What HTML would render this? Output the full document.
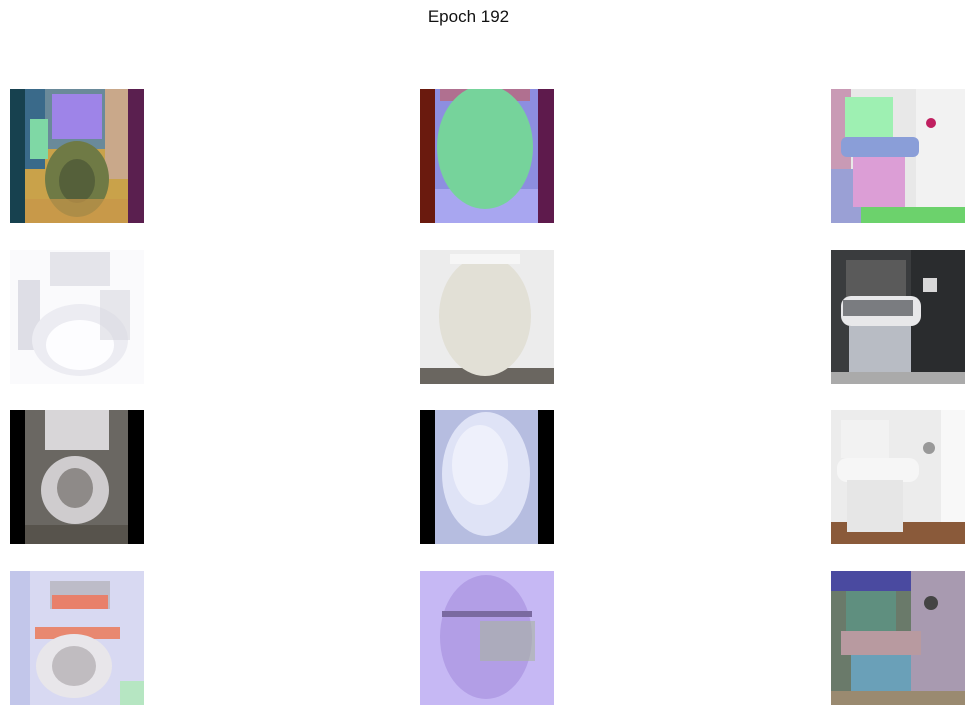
<!DOCTYPE html>
<html><head><meta charset="utf-8"><style>
body{margin:0;background:#fff;width:974px;height:715px;position:relative;overflow:hidden;font-family:"Liberation Sans",sans-serif}
#title{position:absolute;top:7px;left:0;width:937px;text-align:center;font-size:17px;color:#111}
.cell{position:absolute;width:134px;height:134px}
.cell svg{display:block}
</style></head><body>
<div id="title">Epoch 192</div>

<div class="cell" style="left:10px;top:89px">
<svg width="134" height="134"><rect width="134" height="134" fill="#c9a24a"/><rect x="0" y="0" width="134" height="60" fill="#6a8a9a"/><rect x="15" y="0" width="20" height="80" fill="#3a6a8a"/><rect x="95" y="0" width="25" height="90" fill="#c9a88a"/><rect x="0" y="0" width="15" height="134" fill="#17414f"/><rect x="118" y="0" width="16" height="134" fill="#5a1f4f"/><rect x="20" y="30" width="18" height="40" fill="#7fd8a5"/><rect x="42" y="5" width="50" height="45" fill="#9e84e8"/><ellipse cx="67" cy="90" rx="32" ry="38" fill="#6f7a45"/><ellipse cx="67" cy="92" rx="18" ry="22" fill="#55603a"/><rect x="15" y="110" width="103" height="24" fill="#c89548" opacity=".7"/></svg></div>

<div class="cell" style="left:420px;top:89px">
<svg width="134" height="134"><rect width="134" height="134" fill="#8d8ee0"/><rect x="15" y="100" width="103" height="34" fill="#a8a6f0"/><rect x="0" y="0" width="15" height="134" fill="#6a1a0e"/><rect x="118" y="0" width="16" height="134" fill="#5e1a4c"/><rect x="20" y="0" width="90" height="12" fill="#b07090"/><ellipse cx="65" cy="58" rx="48" ry="62" fill="#76d39b"/></svg></div>

<div class="cell" style="left:831px;top:89px">
<svg width="134" height="134"><rect width="134" height="134" fill="#e8e8e8"/><rect x="0" y="0" width="20" height="134" fill="#c99ab5"/><rect x="85" y="0" width="49" height="134" fill="#f2f2f2"/><rect x="0" y="118" width="134" height="16" fill="#6cd26c"/><rect x="0" y="80" width="30" height="54" fill="#9aa0d5"/><rect x="14" y="8" width="48" height="40" fill="#9ef0b2"/><rect x="10" y="48" width="78" height="20" rx="6" fill="#8a9ed8"/><rect x="22" y="68" width="52" height="50" fill="#dc9ed6"/><circle cx="100" cy="34" r="5" fill="#c02060"/></svg></div>

<div class="cell" style="left:10px;top:250px">
<svg width="134" height="134"><rect width="134" height="134" fill="#fafafc"/><rect x="40" y="2" width="60" height="34" fill="#e4e4ea"/><rect x="8" y="30" width="22" height="70" fill="#dedee6"/><ellipse cx="70" cy="90" rx="48" ry="36" fill="#ececf2"/><ellipse cx="70" cy="95" rx="34" ry="25" fill="#fdfdff"/><rect x="90" y="40" width="30" height="50" fill="#d8d8e0" opacity=".6"/></svg></div>

<div class="cell" style="left:420px;top:250px">
<svg width="134" height="134"><rect width="134" height="134" fill="#ececec"/><rect x="0" y="118" width="134" height="16" fill="#6a6660"/><ellipse cx="65" cy="66" rx="46" ry="60" fill="#e2e0d6"/><rect x="30" y="4" width="70" height="10" fill="#f6f6f6"/></svg></div>

<div class="cell" style="left:831px;top:250px">
<svg width="134" height="134"><rect width="134" height="134" fill="#3a3c3e"/><rect x="80" y="0" width="54" height="134" fill="#2a2c2e"/><rect x="15" y="10" width="60" height="40" fill="#5a5a5a"/><rect x="10" y="46" width="80" height="30" rx="10" fill="#e8e8ea"/><rect x="12" y="50" width="70" height="16" fill="#7a7c80"/><rect x="18" y="76" width="62" height="48" fill="#b8bcc4"/><rect x="0" y="122" width="134" height="12" fill="#aaaaaa"/><rect x="92" y="28" width="14" height="14" fill="#d8d8d8"/></svg></div>

<div class="cell" style="left:10px;top:410px">
<svg width="134" height="134"><rect width="134" height="134" fill="#000"/><rect x="15" y="0" width="103" height="134" fill="#6a6762"/><rect x="35" y="0" width="64" height="40" fill="#d8d6d8"/><ellipse cx="65" cy="80" rx="34" ry="34" fill="#cfccce"/><ellipse cx="65" cy="78" rx="18" ry="20" fill="#8e8a88"/><rect x="15" y="115" width="103" height="19" fill="#57534c"/></svg></div>

<div class="cell" style="left:420px;top:410px">
<svg width="134" height="134"><rect width="134" height="134" fill="#000"/><rect x="15" y="0" width="103" height="134" fill="#b6bde0"/><ellipse cx="66" cy="64" rx="44" ry="62" fill="#dfe3f6"/><ellipse cx="60" cy="55" rx="28" ry="40" fill="#eef0fb"/></svg></div>

<div class="cell" style="left:831px;top:410px">
<svg width="134" height="134"><rect width="134" height="134" fill="#ececec"/><rect x="110" y="0" width="24" height="134" fill="#f8f8f8"/><rect x="0" y="112" width="134" height="22" fill="#8a5a3a"/><rect x="10" y="10" width="48" height="38" fill="#f2f2f2"/><rect x="6" y="48" width="82" height="24" rx="10" fill="#f6f6f6"/><rect x="16" y="70" width="56" height="52" fill="#e6e6e6"/><circle cx="98" cy="38" r="6" fill="#999"/></svg></div>

<div class="cell" style="left:10px;top:571px">
<svg width="134" height="134"><rect width="134" height="134" fill="#d8d9f2"/><rect x="0" y="0" width="20" height="134" fill="#c2c6ea"/><rect x="40" y="10" width="60" height="28" fill="#bdbcc8"/><rect x="42" y="24" width="56" height="14" fill="#e8806a"/><rect x="25" y="56" width="85" height="12" fill="#e88870"/><ellipse cx="64" cy="95" rx="38" ry="32" fill="#e8e6ea"/><ellipse cx="64" cy="95" rx="22" ry="20" fill="#c0bcc0"/><rect x="110" y="110" width="24" height="24" fill="#b6e6c2"/></svg></div>

<div class="cell" style="left:420px;top:571px">
<svg width="134" height="134"><rect width="134" height="134" fill="#c6b8f4"/><ellipse cx="66" cy="66" rx="46" ry="62" fill="#b29ee6"/><rect x="22" y="40" width="90" height="6" fill="#7a6aa0"/><rect x="60" y="50" width="55" height="40" fill="#a8b4a0" opacity=".6"/></svg></div>

<div class="cell" style="left:831px;top:571px">
<svg width="134" height="134"><rect width="134" height="134" fill="#6a7a6a"/><rect x="0" y="0" width="134" height="20" fill="#4a4aa0"/><rect x="80" y="0" width="54" height="134" fill="#a89ab0"/><rect x="15" y="20" width="50" height="40" fill="#5f8f7f"/><rect x="10" y="60" width="80" height="24" fill="#b89aa0"/><rect x="20" y="84" width="60" height="40" fill="#6aa0b8"/><rect x="0" y="120" width="134" height="14" fill="#9a8a70"/><circle cx="100" cy="32" r="7" fill="#444"/></svg></div>
</body></html>
